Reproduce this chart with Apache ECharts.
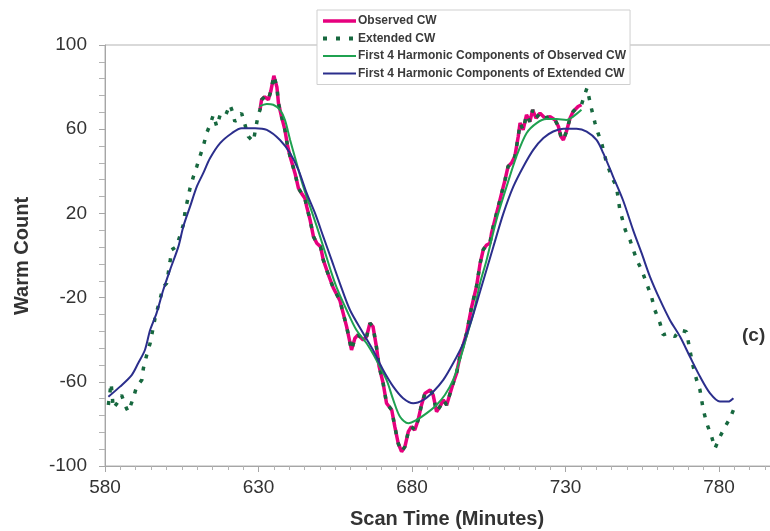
<!DOCTYPE html>
<html><head><meta charset="utf-8">
<script src="https://cdn.jsdelivr.net/npm/echarts@6/dist/echarts.min.js"></script>
<style>html,body{margin:0;padding:0;background:#fff}#c{width:770px;height:531px}</style>
</head><body><div id="c"></div>
<script>
// ---- data ----
const xTickMin = 580, xTickStep = 50;
const yTickMin = -100, yTickMax = 100, yTickStep = 40;

const obsX = [630.5,631.0,632.0,633.2,634.0,635.0,636.0,636.5,637.5,638.6,639.4,640.3,641.9,643.0,644.0,645.1,645.7,646.8,647.9,649.0,650.2,651.1,652.7,654.3,656.5,658.7,660.3,661.4,662.4,664.1,665.2,666.3,667.3,668.4,669.3,670.6,671.7,673.4,674.4,675.5,676.6,677.7,678.8,679.8,680.9,682.0,683.1,684.2,685.9,686.9,688.0,689.1,690.2,691.3,692.4,693.4,694.5,695.6,697.8,699.4,701.0,702.2,703.2,704.3,705.4,705.9,707.0,708.1,709.2,710.3,711.3,712.4,713.5,714.6,715.2,716.2,717.3,718.4,719.3,720.4,721.7,723.3,725.0,726.6,727.7,728.5,729.3,730.3,731.5,732.5,734.1,735.2];
const obsY = [69.2,74,75.4,74,78,85.4,80,72.4,66,59.7,52.6,47,39,32,29.6,27.2,23.2,16.9,9,5.8,4.2,-2.1,-8.9,-15.2,-21.3,-33.8,-44.9,-39.3,-37.7,-40.1,-38.5,-32.2,-33.8,-43.3,-52.8,-60.7,-70.2,-73.4,-81.3,-89.2,-93.2,-90.8,-83.7,-81.3,-82.9,-78.1,-71,-65.5,-63.9,-66.3,-74.2,-71.8,-68.6,-71,-65.5,-60.7,-56,-48,-36.9,-24.6,-14.8,-3.7,2.7,5,5.8,10.6,16.9,23.2,29.6,35.9,42.3,43.9,47,56.5,62.9,59.7,66.8,63.6,69.2,65.3,67.6,65.3,66,64.4,61.3,56.5,54.9,58.9,65.3,68.4,70.8,71.6];

const extLeftX = [581.1,582.0,582.7,584.3,585.4,587.0,587.6,589.2,590.3,592.0,592.5,593.6,594.7,596.3,599.0,600.1,601.2,601.7,603.3,605.5,606.1,607.7,608.8,609.9,610.9,612.0,613.1,614.2,615.3,616.4,617.5,619.1,620.7,621.5,622.3,624.5,625.6,626.7,628.3,629.9];
const extLeftY = [-71,-60.7,-72.6,-69.4,-66.3,-72.6,-74.2,-67.8,-62.3,-59.1,-53.6,-47.2,-41.7,-29.8,-14.8,-13.2,-2.9,2.7,4.2,14.5,20.9,32,37.5,42.3,47,51.8,58.1,62.1,66.8,61.3,66.8,66,71.6,68.4,63.6,67.6,62.1,56.5,54.1,66.8];
const extRightX = [736.4,737.0,738.5,739.6,740.6,741.7,743.2,745.0,746.6,747.7,749.5,751.0,753.2,754.8,756.4,758.0,759.1,760.8,761.8,763.5,765.6,767.3,769.4,770.5,771.6,772.7,773.8,774.9,776.0,777.6,778.7,780.3,782.0,783.6,784.7];
const extRightY = [77.1,79.5,69.5,63,58.1,53.8,45,37.5,32.7,21.7,12,7.4,-2.1,-6.8,-13.2,-19.5,-25.9,-32.2,-37.7,-36.9,-38.5,-35.4,-36.2,-44.9,-52.8,-59.1,-63.9,-73.4,-79.7,-86.1,-91.6,-86.1,-81.3,-77.3,-73.4];

const harmObsX = [630.3,632.7,634.8,637.0,638.6,640.3,642.4,644.6,646.8,649.0,651.1,653.8,655.4,658.7,661.9,665.2,668.4,671.7,673.9,676.1,678.8,681.5,684.7,688.0,690.7,693.4,695.6,697.8,700.0,702.2,704.3,707.5,710.8,714.0,717.3,720.6,723.8,727.1,730.3,732.5,735.2];
const harmObsY = [70.8,72,71.6,69.2,64.4,54.9,43.9,32.7,23.2,13.7,4.2,-8.4,-15,-25.9,-35.4,-41.7,-49.6,-59.1,-68.6,-76.6,-79.7,-78.1,-75,-71,-66.3,-59.1,-49.6,-38.5,-27.4,-13,-2.1,16.9,32.7,47,58.1,62.9,64.8,64.8,64.4,66,69.2];

const harmExtX = [581.1,584.9,588.7,590.8,593.0,594.7,596.8,599.0,601.2,603.9,605.5,607.7,609.9,612.0,614.2,617.5,621.3,624.5,628.9,632.7,637.0,640.3,643.0,645.7,648.4,651.1,653.8,656.5,659.8,664.1,667.3,670.6,673.9,677.1,680.4,683.7,686.9,690.2,693.4,696.7,699.4,702.2,706.5,709.8,713.0,716.3,719.5,722.8,726.0,729.3,733.6,736.9,740.1,742.3,745.5,748.8,752.0,754.8,757.5,760.8,764.0,767.3,770.5,773.8,777.1,780.3,783.0,784.7];
const harmExtY = [-67.1,-62.3,-56.8,-51.2,-44.9,-35.4,-27.4,-16.3,-6.8,4.2,13.7,23.2,32.7,39.1,46.2,53.4,58.1,60.5,60.5,59.7,54.9,48.6,40.7,29.6,20.1,9,-2.1,-13.2,-25.9,-36.9,-44.9,-54.4,-62.3,-67.8,-70.2,-68.6,-64.7,-59.1,-51.2,-41.7,-30.6,-17,4.2,20.1,32.7,42.3,50.2,55.8,58.9,60.2,60.2,58.9,54.9,48.6,37.5,26,12.2,1.1,-10,-21.1,-30.6,-38.5,-48,-57.5,-65.5,-69.4,-69.4,-67.8];

const names = ['Observed CW','Extended CW','First 4 Harmonic Components of Observed CW','First 4 Harmonic Components of Extended CW'];

// ---- build ----
const zip = (xs, ys) => xs.map((x, i) => [x, ys[i]]);
const obsData = zip(obsX, obsY);
const extData = zip(extLeftX, extLeftY).concat(obsData, zip(extRightX, extRightY));
const FONT = '"Liberation Sans", Arial, sans-serif';
const legendWidths = [3.5, 4, 2, 2];
const legendDash = [null, [4, 9], null, null];

const chart = echarts.init(document.getElementById('c'), null, {renderer: 'canvas'});
chart.setOption({
  animation: false,
  backgroundColor: '#fff',
  grid: {left: 105, top: 45, width: 767.5, height: 421, outerBoundsMode: 'none', containLabel: false,
         show: true, borderColor: '#b3b3b3', borderWidth: 1, backgroundColor: 'transparent'},
  legend: {
    orient: 'vertical', left: 317, top: 10,
    padding: [5, 4, 5, 4], itemGap: 5.5, itemWidth: 33, itemHeight: 12.5,
    backgroundColor: '#fff', borderColor: '#cfcfcf', borderWidth: 1, borderRadius: 0,
    itemStyle: {opacity: 0, borderWidth: 0},
    textStyle: {fontFamily: FONT, fontSize: 12, fontWeight: 'bold', color: '#3a3a3a', padding: [0, 0, 0, -3]},
    data: names.map((n, i) => ({name: n, lineStyle: legendDash[i]
      ? {width: legendWidths[i], type: legendDash[i], cap: 'butt'}
      : {width: legendWidths[i]}}))
  },
  xAxis: {
    type: 'value', min: xTickMin, max: 830, interval: xTickStep,
    axisLine: {show: true, onZero: false, lineStyle: {color: '#a6a6a6', width: 1}},
    axisTick: {show: true, inside: false, length: 6, lineStyle: {color: '#a6a6a6'}},
    minorTick: {show: true, splitNumber: 10, length: 4, lineStyle: {color: '#b3b3b3'}},
    axisLabel: {margin: 12, fontFamily: FONT, fontSize: 19, color: '#333'},
    splitLine: {show: false}, minorSplitLine: {show: false}
  },
  yAxis: {
    type: 'value', min: yTickMin, max: yTickMax, interval: yTickStep,
    axisLine: {show: true, onZero: false, lineStyle: {color: '#a6a6a6', width: 1}},
    axisTick: {show: true, inside: false, length: 6, lineStyle: {color: '#a6a6a6'}},
    minorTick: {show: true, splitNumber: 5, length: 6, lineStyle: {color: '#b3b3b3'}},
    axisLabel: {margin: 18, fontFamily: FONT, fontSize: 19, color: '#333'},
    splitLine: {show: false}
  },
  graphic: [
    {type: 'text', x: 22, y: 256, rotation: Math.PI / 2,
     style: {text: 'Warm Count', fontFamily: FONT, fontSize: 20, fontWeight: 'bold', fill: '#333', align: 'center', verticalAlign: 'middle'}},
    {type: 'text', x: 447, y: 519,
     style: {text: 'Scan Time (Minutes)', fontFamily: FONT, fontSize: 20, fontWeight: 'bold', fill: '#333', align: 'center', verticalAlign: 'middle'}},
    {type: 'text', x: 742, y: 336,
     style: {text: '(c)', fontFamily: FONT, fontSize: 19, fontWeight: 'bold', fill: '#333', align: 'left', verticalAlign: 'middle'}}
  ],
  series: [
    {name: names[0], type: 'line', data: obsData, symbol: 'none', z: 2,
     lineStyle: {color: '#e6007e', width: 3.5}, itemStyle: {color: '#e6007e'}},
    {name: names[1], type: 'line', data: extData, symbol: 'none', z: 3,
     lineStyle: {color: '#17683f', width: 3.5, type: [4, 8.5], cap: 'butt'}, itemStyle: {color: '#17683f'}},
    {name: names[2], type: 'line', data: zip(harmObsX, harmObsY), symbol: 'none', smooth: 0.3, z: 4,
     lineStyle: {color: '#1fa150', width: 2}, itemStyle: {color: '#1fa150'}},
    {name: names[3], type: 'line', data: zip(harmExtX, harmExtY), symbol: 'none', smooth: 0.3, z: 5,
     lineStyle: {color: '#2b2e8c', width: 2}, itemStyle: {color: '#2b2e8c'}}
  ]
});
</script>
</body></html>
